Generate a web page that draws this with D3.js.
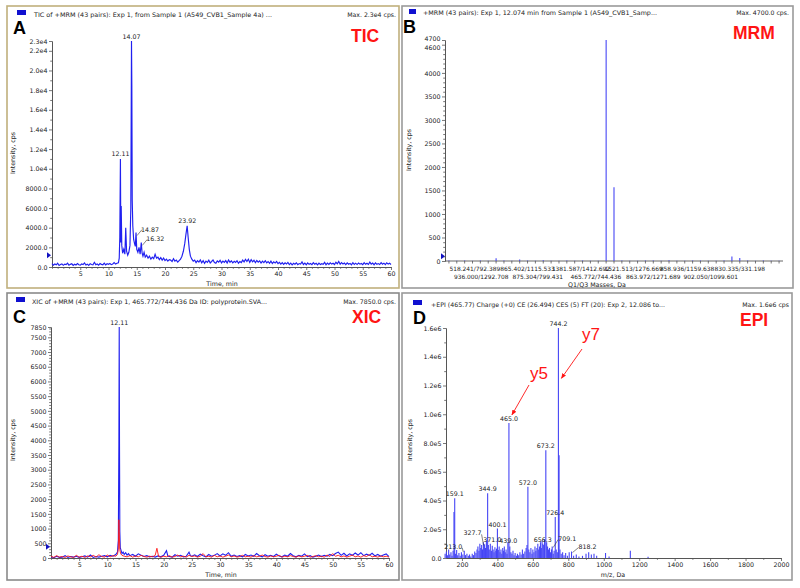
<!DOCTYPE html>
<html><head><meta charset="utf-8">
<script src="https://cdn.jsdelivr.net/npm/d3@7"></script>
<style>body{margin:0;background:#fff}svg{display:block}text{font-family:"DejaVu Sans",sans-serif}</style>
</head><body><svg id="c" width="800" height="588"></svg>
<script>
// ---------------- DATA ----------------
// Panel A: TIC chromatogram [time (min), intensity (cps)]
const ticSeries = [
[0,350],[0.25,180],[0.5,300],[0.75,220],[1,380],[1.25,150],[1.5,260],[1.75,320],[2,170],[2.25,290],[2.5,240],[2.75,400],
[3,190],[3.25,270],[3.5,330],[3.75,160],[4,280],[4.25,210],[4.5,360],[4.75,230],[5,190],[5.25,310],[5.5,250],[5.75,420],
[6,200],[6.25,290],[6.5,170],[6.75,340],[7,260],[7.25,220],[7.5,480],[7.75,240],[8,310],[8.25,190],[8.5,350],[8.75,270],
[9,230],[9.25,400],[9.5,210],[9.75,330],[10,280],[10.25,360],[10.5,240],[10.75,310],[11,450],[11.25,300],[11.5,380],[11.75,420],
[11.9,900],[12.0,3000],[12.11,11000],[12.18,2500],[12.25,6200],[12.35,2200],[12.5,1400],[12.7,1800],[12.9,1300],[13.05,4000],
[13.2,1600],[13.4,1200],[13.6,1500],[13.8,2200],[13.95,6000],[14.07,23000],[14.13,18500],[14.2,6800],[14.3,4200],[14.45,2800],
[14.6,2400],[14.75,2100],[14.87,3500],[15.0,1800],[15.2,1500],[15.4,2000],[15.6,1300],[15.8,2500],[15.95,1400],[16.1,1100],
[16.3,1500],[16.5,1000],[16.75,1200],[17,900],[17.25,1100],[17.5,800],[17.75,1000],[18,850],[18.25,1300],[18.5,900],[18.75,1000],
[19,750],[19.25,950],[19.5,700],[19.75,900],[20,650],[20.25,800],[20.5,600],[20.75,750],[21,700],[21.25,550],[21.5,850],[21.75,600],
[22,700],[22.25,500],[22.5,650],[22.75,800],[23,1100],[23.25,1600],[23.5,2400],[23.7,3300],[23.92,4200],[24.1,3000],[24.3,1800],
[24.5,1100],[24.75,800],[25,600],[25.25,700],[25.5,450],[25.75,650],
[26,500],[26.25,720],[26.5,430],[26.75,650],[27,380],[27.25,600],[27.5,470],[27.75,690],[28,410],[28.25,560],[28.5,720],[28.75,450],
[29,380],[29.25,620],[29.5,500],[29.75,680],[30,420],[30.25,600],[30.5,470],[30.75,650],[31,400],[31.25,710],[31.5,480],[31.75,620],
[32,430],[32.25,580],[32.5,460],[32.75,640],[33,390],[33.25,550],[33.5,450],[33.75,700],[34,520],[34.25,780],[34.5,560],[34.75,800],
[35,470],[35.25,740],[35.5,520],[35.75,680],[36,440],[36.25,660],[36.5,500],[36.75,620],[37,400],[37.25,590],[37.5,450],[37.75,640],
[38,420],[38.25,560],[38.5,380],[38.75,600],[39,360],[39.25,520],[39.5,400],[39.75,560],[40,340],[40.25,480],[40.5,290],[40.75,450],
[41,260],[41.25,420],[41.5,300],[41.75,460],[42,250],[42.25,400],[42.5,220],[42.75,380],[43,280],[43.25,430],[43.5,240],[43.75,350],
[44,300],[44.25,520],[44.5,260],[44.75,400],[45,230],[45.25,420],[45.5,270],[45.75,360],[46,240],[46.25,450],[46.5,290],[46.75,380],
[47,220],[47.25,400],[47.5,250],[47.75,340],[48,280],[48.25,470],[48.5,230],[48.75,390],[49,260],[49.25,430],[49.5,300],[49.75,380],
[50,250],[50.25,480],[50.5,320],[50.75,560],[51,280],[51.25,440],[51.5,300],[51.75,400],[52,240],[52.25,420],[52.5,280],[52.75,370],
[53,230],[53.25,440],[53.5,270],[53.75,390],[54,250],[54.25,410],[54.5,290],[54.75,360],[55,240],[55.25,450],[55.5,280],[55.75,380],
[56,260],[56.25,500],[56.5,290],[56.75,400],[57,230],[57.25,420],[57.5,270],[57.75,350],[58,250],[58.25,440],[58.5,280],[58.75,390],
[59,240],[59.25,430],[59.5,300],[59.75,380],[60,260]];
const ticPeakLabels = [[12.11,11000,"12.11"],[14.07,23000,"14.07"],[14.87,3500,"14.87"],[15.8,2500,"16.32"],[23.92,4200,"23.92"]];
const ticYTicks = [0,2000,4000,6000,8000,10000,12000,14000,16000,18000,20000,22000,23000];
const ticYLabels = ["0.0","2000.0","4000.0","6000.0","8000.0","1.0e4","1.2e4","1.4e4","1.6e4","1.8e4","2.0e4","2.2e4","2.3e4"];
const timeTicks = [5,10,15,20,25,30,35,40,45,50,55,60];
const ticMarker = 1200;

// Panel B: MRM intensities of the 43 Q1/Q3 pairs at 12.074 min
const mrmValues = [8,5,10,4,12,6,60,8,5,30,10,4,15,6,3,8,5,10,4,6,4700,1570,10,6,4,8,12,5,15,6,4,8,10,5,6,12,95,65,10,4,8,5,6];
const mrmLabelsRow1 = ["518.241/792.389","865.402/1115.533","1381.587/1412.692","1521.513/1276.669","858.936/1159.638","830.335/331.198"];
const mrmLabelIdxRow1 = [3.3,10,16.8,23.5,30.3,37];
const mrmLabelsRow2 = ["936.000/1292.708","875.304/799.431","465.772/744.436","863.972/1271.689","902.050/1099.601"];
const mrmLabelIdxRow2 = [4.1,11.3,18.7,26,33.3];
const mrmYTicks = [0,500,1000,1500,2000,2500,3000,3500,4000,4600,4700];
const mrmYLabels = ["0","500","1000","1500","2000","2500","3000","3500","4000","4600","4700"];
const mrmMarker = 100;

// Panel C: XIC 465.772/744.436 (blue) and second transition (red)
const xicBlue = [
[0,40],[0.5,10],[1,60],[1.5,20],[2,30],[2.5,80],[3,20],[3.5,50],[4,30],[4.5,60],[5,20],[5.5,40],[6,70],[6.5,30],[7,100],[7.5,20],
[8,50],[8.5,30],[9,60],[9.5,80],[10,40],[10.5,90],[11,60],[11.5,120],[11.8,200],[11.95,600],[12.05,3900],[12.11,7850],[12.16,3900],
[12.22,900],[12.3,350],[12.45,250],[12.6,150],[12.8,200],[13,120],[13.25,180],[13.5,100],[13.75,150],[14,80],[14.5,120],[15,60],
[15.5,140],[16,90],[16.5,50],[17,80],[17.5,40],[18,60],[18.5,30],[19,70],[19.5,40],[20,90],[20.5,250],[20.75,60],[21,50],[21.5,30],
[22,110],[22.5,60],[23,90],[23.5,40],[24,60],[24.5,200],[24.75,80],[25,60],[25.5,110],[26,50],[26.5,130],[27,80],[27.5,40],[28,120],
[28.5,60],[29,90],[29.5,150],[30,70],[30.5,140],[31,90],[31.5,180],[32,60],[32.5,100],[33,50],[33.5,80],[34,40],[34.5,120],[35,70],
[35.5,100],[36,60],[36.5,150],[37,80],[37.5,40],[38,110],[38.5,60],[39,90],[39.5,50],[40,130],[40.5,70],[41,40],[41.5,100],[42,60],
[42.5,150],[43,80],[43.5,40],[44,90],[44.5,60],[45,140],[45.5,50],[46,80],[46.5,30],[47,60],[47.5,100],[48,50],[48.5,90],[49,60],
[49.5,120],[50,80],[50.5,150],[51,200],[51.5,90],[52,160],[52.5,70],[53,140],[53.5,90],[54,170],[54.5,100],[55,180],[55.5,80],
[56,130],[56.5,90],[57,160],[57.5,70],[58,120],[58.5,60],[59,100],[59.5,140],[60,50]];
const xicRed = [
[0,60],[0.5,20],[1,80],[1.5,30],[2,50],[2.5,20],[3,70],[3.5,40],[4,20],[4.5,90],[5,30],[5.5,60],[6,20],[6.5,70],[7,40],[7.5,90],
[8,30],[8.5,110],[9,50],[9.5,30],[10,100],[10.5,40],[11,80],[11.5,60],[11.8,120],[11.95,300],[12.05,1300],[12.12,900],[12.2,300],
[12.35,150],[12.6,90],[13,60],[13.5,40],[14,80],[14.5,30],[15,70],[15.5,40],[16,90],[16.5,50],[17,30],[17.5,60],[18,40],[18.5,90],
[18.8,330],[19.1,50],[19.5,30],[20,60],[20.5,40],[21,80],[21.5,30],[22,50],[22.5,100],[23,40],[23.5,60],[24,30],[24.5,90],[25,50],
[25.5,70],[26,30],[26.5,60],[27,150],[27.5,40],[28,60],[28.5,30],[29,90],[29.5,40],[30,70],[30.5,30],[31,60],[31.5,100],[32,40],
[32.5,70],[33,30],[33.5,50],[34,90],[34.5,40],[35,60],[35.5,30],[36,80],[36.5,40],[37,60],[37.5,100],[38,50],[38.5,30],[39,70],
[39.5,40],[40,60],[40.5,90],[41,30],[41.5,60],[42,40],[42.5,80],[43,50],[43.5,30],[44,70],[44.5,40],[45,60],[45.5,90],[46,30],
[46.5,50],[47,80],[47.5,40],[48,60],[48.5,30],[49,100],[49.5,50],[50,150],[50.5,60],[51,90],[51.5,40],[52,70],[52.5,30],[53,60],
[53.5,100],[54,40],[54.5,70],[55,30],[55.5,80],[56,50],[56.5,110],[57,40],[57.5,60],[58,30],[58.5,70],[59,40],[59.5,60],[60,30]];
const xicPeakLabels = [[12.11,7850,"12.11"]];
const xicYTicks = [0,500,1000,1500,2000,2500,3000,3500,4000,4500,5000,5500,6000,6500,7000,7500,7850];
const xicYLabels = ["0","500","1000","1500","2000","2500","3000","3500","4000","4500","5000","5500","6000","6500","7000","7500","7850"];
const xicMarker = 380;

// Panel D: EPI spectrum [m/z, intensity]
const epiPeaks = [
[105,30000],[112,45000],[118,20000],[125,60000],[131,25000],[138,40000],[144,15000],[150,50000],[155,320000],[159.1,415000],
[163,30000],[170,55000],[176,20000],[183,35000],[190,15000],[197,40000],[205,25000],[213,50000],[220,20000],[228,30000],
[236,15000],[243,25000],[250,10000],[258,30000],[265,20000],[272,45000],[279,35000],[285,60000],[290,80000],[296,50000],
[301,100000],[306,70000],[311,90000],[316,60000],[321,110000],[327.7,95000],[333,70000],[338,120000],[344.9,450000],[349,90000],
[354,60000],[360,100000],[366,50000],[371,85000],[376,60000],[381,40000],[386,75000],[391,50000],[395,65000],[400.1,205000],
[405,55000],[410,80000],[415,40000],[420,60000],[425,30000],[430,70000],[435,50000],[439,80000],[444,40000],[449,60000],
[454,30000],[459,110000],[465,940000],[470,80000],[476,40000],[482,30000],[488,50000],[494,20000],[500,35000],[507,15000],
[513,30000],[520,20000],[527,40000],[534,25000],[541,60000],[548,30000],[555,45000],[562,70000],[567,90000],[572,495000],
[577,60000],[583,40000],[589,70000],[595,30000],[600,60000],[606,40000],[612,80000],[617,50000],[623,70000],[628,100000],
[633,60000],[638,80000],[643,110000],[648,70000],[652,120000],[656.3,100000],[661,90000],[666,130000],[673.2,750000],[678,110000],
[683,80000],[688,60000],[694,70000],[700,40000],[705,60000],[709.1,80000],[715,30000],[720,50000],[726.4,285000],[732,60000],
[738,40000],[744.2,1600000],[748,715000],[753,60000],[760,30000],[768,40000],[776,20000],[785,35000],[795,15000],[805,40000],
[818.2,45000],[830,15000],[845,25000],[860,10000],[880,15000],[900,30000],[915,40000],[930,25000],[945,30000],[960,15000],
[1010,35000],[1030,10000],[1150,50000],[1250,8000]];
const epiLabels = [[159.1,415000,"159.1"],[213.0,50000,"213.0"],[327.7,95000,"327.7"],[344.9,450000,"344.9"],[371.0,85000,"371.0"],
[400.1,205000,"400.1"],[439.0,80000,"439.0"],[465.0,940000,"465.0"],[572.0,495000,"572.0"],[656.3,100000,"656.3"],
[673.2,750000,"673.2"],[709.1,80000,"709.1"],[726.4,285000,"726.4"],[744.2,1600000,"744.2"],[818.2,45000,"818.2"]];
const epiYTicks = [0,200000,400000,600000,800000,1000000,1200000,1400000,1600000];
const epiYLabels = ["0.0","2.0e5","4.0e5","6.0e5","8.0e5","1.0e6","1.2e6","1.4e6","1.6e6"];
const mzTicks = [200,400,600,800,1000,1200,1400,1600,1800,2000];
const fragmentNotes = [[465.0,"y5"],[744.2,"y7"]];

// ---------------- LAYOUT / DRAWING ----------------
const svg = d3.select("#c");
const BLUE = "#2020f0", STICK = "#4646f5", RED = "#ff1414";

const panels = {
  A:{x:7,y:6,w:392,h:282,stroke:"#c0b07c"},
  B:{x:402,y:6,w:391,h:282,stroke:"#9a9a9a"},
  C:{x:7,y:293,w:392,h:287,stroke:"#8a8a8a"},
  D:{x:402,y:293,w:390,h:287,stroke:"#9a9a9a"}
};
Object.values(panels).forEach(p=>{
  svg.append("rect").attr("x",p.x).attr("y",p.y).attr("width",p.w).attr("height",p.h)
    .attr("fill","#fff").attr("stroke",p.stroke).attr("stroke-width",1.6);
});

function header(o){
  svg.append("rect").attr("x",o.sq[0]).attr("y",o.sq[1]).attr("width",o.sq[2]).attr("height",o.sq[3]).attr("fill","#1010d0");
  svg.append("text").attr("x",o.tx).attr("y",o.ty).attr("font-size",6.2).attr("fill","#222")
    .attr("textLength",o.tw).attr("lengthAdjust","spacingAndGlyphs").text(o.title);
  svg.append("text").attr("x",o.mx).attr("y",o.ty).attr("font-size",6.2).attr("fill","#222").attr("text-anchor","end").text(o.max);
  svg.append("text").attr("x",o.lx).attr("y",o.ly).attr("font-size",18).attr("font-weight","bold")
    .style("font-family","'Liberation Sans',Arial,sans-serif").attr("fill","#000").text(o.letter);
  svg.append("text").attr("x",o.rx).attr("y",o.ry).attr("font-size",17.5).attr("font-weight","bold")
    .style("font-family","'Liberation Sans',Arial,sans-serif").attr("fill",RED).text(o.tag);
}
header({sq:[17,10,9,5],tx:34,ty:17,tw:238,title:"TIC of +MRM (43 pairs): Exp 1, from Sample 1 (A549_CVB1_Sample 4a) ...",
  mx:396,max:"Max. 2.3e4 cps.",lx:13,ly:34,letter:"A",rx:351,ry:42,tag:"TIC"});
header({sq:[409,9,7,5],tx:423,ty:15,tw:234,title:"+MRM (43 pairs): Exp 1, 12.074 min from Sample 1 (A549_CVB1_Samp...",
  mx:789,max:"Max. 4700.0 cps.",lx:403,ly:33,letter:"B",rx:733,ry:39,tag:"MRM"});
header({sq:[16,297,9,5],tx:32,ty:304,tw:235,title:"XIC of +MRM (43 pairs): Exp 1, 465.772/744.436 Da ID: polyprotein.SVA...",
  mx:396,max:"Max. 7850.0 cps.",lx:13,ly:323,letter:"C",rx:352,ry:323,tag:"XIC"});
header({sq:[413,300,9,5],tx:431,ty:307,tw:234,title:"+EPI (465.77) Charge (+0) CE (26.494) CES (5) FT (20): Exp 2, 12.086 to...",
  mx:789,max:"Max. 1.6e6 cps",lx:413,ly:324,letter:"D",rx:740,ry:326,tag:"EPI"});

function styleAxis(g){
  g.selectAll("path.domain").attr("stroke","#555").attr("stroke-width",0.9);
  g.selectAll(".tick line").attr("stroke","#555").attr("stroke-width",0.8);
  g.selectAll(".tick text").attr("font-size",6.3).attr("fill","#222").style("font-family","'DejaVu Sans',sans-serif");
  g.attr("font-family",null);
}
function yAxis(scale, x, ticks, labels, minorStep, nudge){
  const [d0,d1] = scale.domain();
  const minor = d3.range(d0, d1+1e-9, minorStep).filter(v=>!ticks.includes(v));
  const gm = svg.append("g").attr("transform",`translate(${x},0)`)
    .call(d3.axisLeft(scale).tickValues(minor).tickSize(1.8).tickSizeOuter(0).tickFormat(""));
  styleAxis(gm);
  const g = svg.append("g").attr("transform",`translate(${x},0)`)
    .call(d3.axisLeft(scale).tickValues(ticks).tickSize(3).tickSizeOuter(0).tickPadding(1.5)
      .tickFormat((d,i)=>labels[i]));
  styleAxis(g);
  g.selectAll(".tick text").attr("dy","0.34em")
    .attr("y", d => (nudge && nudge[d]) ? nudge[d] : 0);
}
function xAxis(scale, y, ticks, minorStep, fmt){
  const [d0,d1] = scale.domain();
  const start = Math.ceil(d0/minorStep)*minorStep;
  const minor = d3.range(start, d1+1e-9, minorStep).filter(v=>!ticks.includes(v));
  const gm = svg.append("g").attr("transform",`translate(0,${y})`)
    .call(d3.axisBottom(scale).tickValues(minor).tickSize(1.8).tickSizeOuter(0).tickFormat(""));
  styleAxis(gm);
  const g = svg.append("g").attr("transform",`translate(0,${y})`)
    .call(d3.axisBottom(scale).tickValues(ticks).tickSize(3).tickSizeOuter(0).tickPadding(1.5).tickFormat(fmt||(d=>d)));
  styleAxis(g);
}
function axisTitleY(x, y, txt){
  svg.append("text").attr("transform",`translate(${x},${y}) rotate(-90)`).attr("text-anchor","middle")
    .attr("font-size",6.3).attr("fill","#222").text(txt);
}
function axisTitleX(x, y, txt){
  svg.append("text").attr("x",x).attr("y",y).attr("text-anchor","middle").attr("font-size",6.3).attr("fill","#222").text(txt);
}
function marker(x, y){
  svg.append("path").attr("d",`M${x-3},${y-3}L${x+1},${y}L${x-3},${y+3}Z`).attr("fill","#1010c0");
}
function peakLabel(x, y, txt){
  svg.append("text").attr("x",x).attr("y",y).attr("text-anchor","middle").attr("font-size",6.3).attr("fill","#222").text(txt);
}

// ---- Panel A ----
const xA = d3.scaleLinear().domain([0,60]).range([52,391]);
const yA = d3.scaleLinear().domain([0,23000]).range([267,41]);
yAxis(yA, 52, ticYTicks, ticYLabels, 1000);
xAxis(xA, 267, timeTicks, 1);
svg.append("path").datum(ticSeries).attr("fill","none").attr("stroke",BLUE).attr("stroke-width",1.15)
  .attr("d", d3.line().x(d=>xA(d[0])).y(d=>yA(d[1])));
const ticLabelShift = {"14.87":[14,-1],"16.32":[14,-1]};
ticPeakLabels.forEach(([t,v,txt])=>{
  const px = xA(t), py = yA(v);
  const s = ticLabelShift[txt];
  if(s){
    svg.append("line").attr("x1",px+1).attr("y1",py+3).attr("x2",px+s[0]-8).attr("y2",py+s[1]-2).attr("stroke","#333").attr("stroke-width",0.6);
    peakLabel(px+s[0], py+s[1], txt);
  } else peakLabel(px, py-2.5, txt);
});
marker(50, yA(ticMarker));
axisTitleY(15, 153, "Intensity, cps");
axisTitleX(222, 286, "Time, min");

// ---- Panel B ----
const xB = d3.scaleLinear().domain([-0.5,42.5]).range([445,783]);
const yB = d3.scaleLinear().domain([0,4700]).range([261,40]);
yAxis(yB, 445, mrmYTicks, mrmYLabels, 100, {4600:2.5, 4700:-1.2});
svg.append("line").attr("x1",445).attr("x2",783).attr("y1",261).attr("y2",261).attr("stroke","#555").attr("stroke-width",0.9);
svg.append("g").selectAll("line").data(d3.range(mrmValues.length)).join("line")
  .attr("x1",i=>xB(i)).attr("x2",i=>xB(i)).attr("y1",261).attr("y2",263.5).attr("stroke","#555").attr("stroke-width",0.8);
svg.append("g").selectAll("line").data(mrmValues).join("line")
  .attr("x1",(d,i)=>xB(i)).attr("x2",(d,i)=>xB(i)).attr("y1",yB(0)).attr("y2",d=>yB(d))
  .attr("stroke",STICK).attr("stroke-width",1.1);
mrmLabelsRow1.forEach((t,k)=>svg.append("text").attr("x",xB(mrmLabelIdxRow1[k])).attr("y",270.5).attr("text-anchor","middle")
  .attr("font-size",5.9).attr("fill","#222").text(t));
mrmLabelsRow2.forEach((t,k)=>svg.append("text").attr("x",xB(mrmLabelIdxRow2[k])).attr("y",279).attr("text-anchor","middle")
  .attr("font-size",5.9).attr("fill","#222").text(t));
marker(444, yB(mrmMarker));
axisTitleY(411, 150, "Intensity, cps");
axisTitleX(597, 287, "Q1/Q3 Masses, Da");

// ---- Panel C ----
const xC = d3.scaleLinear().domain([0,60]).range([51,389]);
const yC = d3.scaleLinear().domain([0,7850]).range([558,327]);
yAxis(yC, 51, xicYTicks, xicYLabels, 100);
xAxis(xC, 558, timeTicks, 1);
svg.append("path").datum(xicBlue).attr("fill","none").attr("stroke",BLUE).attr("stroke-width",1.1)
  .attr("d", d3.line().x(d=>xC(d[0])).y(d=>yC(d[1])));
svg.append("path").datum(xicRed).attr("fill","none").attr("stroke",RED).attr("stroke-width",0.9)
  .attr("d", d3.line().x(d=>xC(d[0])).y(d=>yC(d[1])));
xicPeakLabels.forEach(([t,v,txt])=>peakLabel(xC(t), yC(v)-2.5, txt));
marker(49, yC(xicMarker));
axisTitleY(15, 440, "Intensity, cps");
axisTitleX(221, 577, "Time, min");

// ---- Panel D ----
const xD = d3.scaleLinear().domain([110,2000]).range([446,781]);
const yD = d3.scaleLinear().domain([0,1600000]).range([558,328]);
yAxis(yD, 446, epiYTicks, epiYLabels, 100000);
xAxis(xD, 558, mzTicks, 100);
svg.append("g").selectAll("line").data(epiPeaks).join("line")
  .attr("x1",d=>xD(d[0])).attr("x2",d=>xD(d[0])).attr("y1",yD(0)).attr("y2",d=>yD(d[1]))
  .attr("stroke",STICK).attr("stroke-width",1.1);
const epiLabelShift = {"213.0":[-11,-2],"327.7":[-12,-9],"709.1":[15,-6],"818.2":[16,-3],"371.0":[0,-4],"439.0":[4,-4]};
epiLabels.forEach(([m,v,txt])=>{
  const px = xD(m), py = yD(v);
  const s = epiLabelShift[txt];
  if(s && (s[0]>5 || s[0]<-5)){
    const lx = px + s[0], ly = py + s[1];
    const ex = s[0] < 0 ? lx + 9 : lx - 9;
    svg.append("line").attr("x1",ex).attr("y1",ly-1).attr("x2",px + (s[0]<0? -1:1)).attr("y2",py+1).attr("stroke","#333").attr("stroke-width",0.6);
    peakLabel(lx, ly, txt);
  } else if(s){ peakLabel(px+s[0], py+s[1], txt); }
  else peakLabel(px, py-2, txt);
});
// fragment annotations (y5, y7) with red arrows
const defs = svg.append("defs");
defs.append("marker").attr("id","ah").attr("viewBox","0 0 10 10").attr("refX",9).attr("refY",5)
  .attr("markerWidth",6).attr("markerHeight",6).attr("orient","auto")
  .append("path").attr("d","M0,1L10,5L0,9Z").attr("fill",RED);
const noteLayout = {"y5":{tx:530,ty:379,ax1:529,ay1:385},"y7":{tx:582,ty:340,ax1:582,ay1:349}};
fragmentNotes.forEach(([m,t])=>{
  const L = noteLayout[t];
  const peakX = xD(m);
  svg.append("text").attr("x",L.tx).attr("y",L.ty).attr("font-size",17).attr("fill",RED)
    .style("font-family","'Liberation Sans',Arial,sans-serif").text(t);
  const tgtY = t==="y5" ? yD(940000)-8 : yD(1250000);
  svg.append("line").attr("x1",L.ax1).attr("y1",L.ay1).attr("x2",peakX+3).attr("y2",tgtY)
    .attr("stroke",RED).attr("stroke-width",0.9).attr("marker-end","url(#ah)");
});
axisTitleY(412, 440, "Intensity, cps");
axisTitleX(613, 577, "m/z, Da");
</script></body></html>
